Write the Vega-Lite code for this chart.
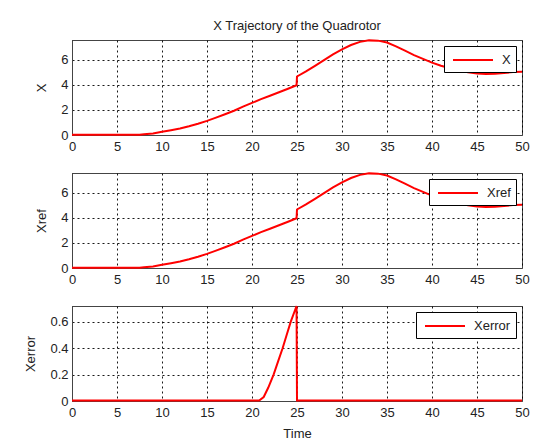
{
  "$schema": "https://vega.github.io/schema/vega-lite/v6.json",
  "background": "white",
  "padding": {"left": 24, "top": 19, "right": 20, "bottom": 5},
  "spacing": 38,
  "bounds": "flush",
  "datasets": {
    "x": [
      {"i":0,"t":0,"v":0.02},{"i":1,"t":7.5,"v":0.02},{"i":2,"t":8,"v":0.05},{"i":3,"t":9,"v":0.12},{"i":4,"t":10,"v":0.25},
      {"i":5,"t":11,"v":0.38},{"i":6,"t":12,"v":0.52},{"i":7,"t":13,"v":0.7},{"i":8,"t":14,"v":0.9},{"i":9,"t":15,"v":1.12},
      {"i":10,"t":16,"v":1.38},{"i":11,"t":17,"v":1.65},{"i":12,"t":18,"v":1.93},{"i":13,"t":19,"v":2.25},{"i":14,"t":20,"v":2.55},
      {"i":15,"t":21,"v":2.85},{"i":16,"t":22,"v":3.12},{"i":17,"t":23,"v":3.4},{"i":18,"t":24,"v":3.68},{"i":19,"t":24.95,"v":3.95},
      {"i":20,"t":25,"v":4.65},{"i":21,"t":26,"v":5.05},{"i":22,"t":27,"v":5.5},{"i":23,"t":28,"v":5.95},{"i":24,"t":29,"v":6.4},
      {"i":25,"t":30,"v":6.8},{"i":26,"t":31,"v":7.15},{"i":27,"t":32,"v":7.4},{"i":28,"t":33,"v":7.52},{"i":29,"t":34,"v":7.5},
      {"i":30,"t":35,"v":7.35},{"i":31,"t":36,"v":7.05},{"i":32,"t":37,"v":6.7},{"i":33,"t":38,"v":6.35},{"i":34,"t":39,"v":6.05},
      {"i":35,"t":40,"v":5.75},{"i":36,"t":41,"v":5.5},{"i":37,"t":42,"v":5.3},{"i":38,"t":43,"v":5.12},{"i":39,"t":44,"v":4.98},
      {"i":40,"t":45,"v":4.88},{"i":41,"t":46,"v":4.84},{"i":42,"t":47,"v":4.86},{"i":43,"t":48,"v":4.93},{"i":44,"t":49,"v":5.0},
      {"i":45,"t":50,"v":5.03}
    ],
    "xref": [
      {"i":0,"t":0,"v":0.02},{"i":1,"t":7.5,"v":0.02},{"i":2,"t":8,"v":0.05},{"i":3,"t":9,"v":0.12},{"i":4,"t":10,"v":0.25},
      {"i":5,"t":11,"v":0.38},{"i":6,"t":12,"v":0.52},{"i":7,"t":13,"v":0.7},{"i":8,"t":14,"v":0.9},{"i":9,"t":15,"v":1.12},
      {"i":10,"t":16,"v":1.38},{"i":11,"t":17,"v":1.65},{"i":12,"t":18,"v":1.93},{"i":13,"t":19,"v":2.25},{"i":14,"t":20,"v":2.55},
      {"i":15,"t":21,"v":2.85},{"i":16,"t":22,"v":3.12},{"i":17,"t":23,"v":3.4},{"i":18,"t":24,"v":3.68},{"i":19,"t":24.95,"v":3.95},
      {"i":20,"t":25,"v":4.65},{"i":21,"t":26,"v":5.05},{"i":22,"t":27,"v":5.5},{"i":23,"t":28,"v":5.95},{"i":24,"t":29,"v":6.4},
      {"i":25,"t":30,"v":6.8},{"i":26,"t":31,"v":7.15},{"i":27,"t":32,"v":7.4},{"i":28,"t":33,"v":7.52},{"i":29,"t":34,"v":7.5},
      {"i":30,"t":35,"v":7.35},{"i":31,"t":36,"v":7.05},{"i":32,"t":37,"v":6.7},{"i":33,"t":38,"v":6.35},{"i":34,"t":39,"v":6.05},
      {"i":35,"t":40,"v":5.75},{"i":36,"t":41,"v":5.5},{"i":37,"t":42,"v":5.3},{"i":38,"t":43,"v":5.12},{"i":39,"t":44,"v":4.98},
      {"i":40,"t":45,"v":4.88},{"i":41,"t":46,"v":4.84},{"i":42,"t":47,"v":4.86},{"i":43,"t":48,"v":4.93},{"i":44,"t":49,"v":5.0},
      {"i":45,"t":50,"v":5.03}
    ],
    "xerr": [
      {"i":0,"t":0,"v":0.003},{"i":1,"t":20.8,"v":0.003},{"i":2,"t":21.3,"v":0.03},{"i":3,"t":21.8,"v":0.1},{"i":4,"t":22.4,"v":0.2},
      {"i":5,"t":22.9,"v":0.3},{"i":6,"t":23.4,"v":0.4},{"i":7,"t":23.85,"v":0.5},{"i":8,"t":24.3,"v":0.6},{"i":9,"t":24.95,"v":0.72},
      {"i":10,"t":25,"v":0.003},{"i":11,"t":50,"v":0.003}
    ]
  },
  "config": {
    "font": "Liberation Sans",
    "view": {"stroke": "#444", "strokeWidth": 1},
    "axis": {
      "labelFont": "Liberation Sans", "labelFontSize": 13, "labelColor": "#222",
      "titleFont": "Liberation Sans", "titleFontSize": 13, "titleColor": "#222", "titleFontWeight": "normal",
      "domainColor": "#444", "ticks": false, "labelPadding": 4,
      "grid": true, "gridColor": "#000", "gridDash": [2, 3], "gridOpacity": 0.9, "gridWidth": 1,
      "labelFlush": false
    },
    "axisY": {"titlePadding": 12},
    "axisX": {"labelPadding": 5, "titlePadding": 8},
    "legend": {
      "orient": "top-right", "offset": 6, "title": null,
      "strokeColor": "#000", "fillColor": "white", "padding": 5, "cornerRadius": 0,
      "symbolType": "M-0.625,0H4.375", "symbolSize": 256, "symbolStrokeWidth": 2,
      "labelOffset": 35, "labelFont": "Liberation Sans", "labelFontSize": 13, "labelColor": "#222"
    },
    "title": {"font": "Liberation Sans", "fontSize": 13, "fontWeight": "normal", "color": "#222", "offset": 3}
  },
  "resolve": {"scale": {"color": "independent"}, "legend": {"color": "independent"}},
  "vconcat": [
    {
      "width": 450, "height": 95,
      "title": {"text": "X Trajectory of the Quadrotor", "anchor": "middle"},
      "data": {"name": "x"},
      "mark": {"type": "line", "strokeWidth": 2},
      "encoding": {
        "x": {"field": "t", "type": "quantitative", "scale": {"domain": [0, 50], "nice": false}, "axis": {"values": [0,5,10,15,20,25,30,35,40,45,50], "title": null}},
        "y": {"field": "v", "type": "quantitative", "scale": {"domain": [0, 7.55], "nice": false}, "axis": {"values": [0,2,4,6], "title": "X"}},
        "order": {"field": "i"},
        "color": {"datum": "X", "type": "nominal", "scale": {"range": ["#ff0000"]}}
      }
    },
    {
      "width": 450, "height": 95,
      "data": {"name": "xref"},
      "mark": {"type": "line", "strokeWidth": 2},
      "encoding": {
        "x": {"field": "t", "type": "quantitative", "scale": {"domain": [0, 50], "nice": false}, "axis": {"values": [0,5,10,15,20,25,30,35,40,45,50], "title": null}},
        "y": {"field": "v", "type": "quantitative", "scale": {"domain": [0, 7.55], "nice": false}, "axis": {"values": [0,2,4,6], "title": "Xref"}},
        "order": {"field": "i"},
        "color": {"datum": "Xref", "type": "nominal", "scale": {"range": ["#ff0000"]}}
      }
    },
    {
      "width": 450, "height": 95,
      "data": {"name": "xerr"},
      "mark": {"type": "line", "strokeWidth": 2},
      "encoding": {
        "x": {"field": "t", "type": "quantitative", "scale": {"domain": [0, 50], "nice": false}, "axis": {"values": [0,5,10,15,20,25,30,35,40,45,50], "title": "Time"}},
        "y": {"field": "v", "type": "quantitative", "scale": {"domain": [0, 0.72], "nice": false}, "axis": {"values": [0,0.2,0.4,0.6], "format": ".1~f", "title": "Xerror"}},
        "order": {"field": "i"},
        "color": {"datum": "Xerror", "type": "nominal", "scale": {"range": ["#ff0000"]}}
      }
    }
  ]
}
